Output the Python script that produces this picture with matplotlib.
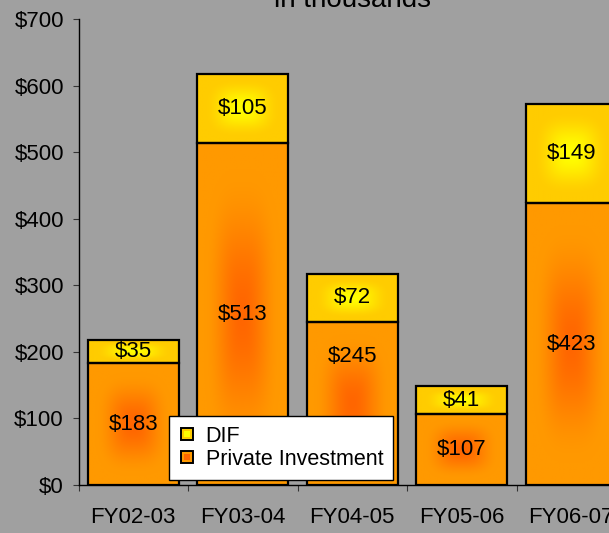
import numpy as np
import matplotlib
matplotlib.use("Agg")
import matplotlib.pyplot as plt
from matplotlib.lines import Line2D
from matplotlib.legend_handler import HandlerTuple

years = ["FY02-03", "FY03-04", "FY04-05", "FY05-06", "FY06-07"]
private_inv = [183, 513, 245, 107, 423]
dif = [35, 105, 72, 41, 149]
ytick_vals = [0, 100, 200, 300, 400, 500, 600, 700]
# label for FY04-05 private segment sits higher (clear of the legend)
pi_label_shift = [0, 0, 70, 0, 0]

plt.rcParams['font.family'] = ['Liberation Sans', 'DejaVu Sans']

bg = '#A0A0A0'
yel_center, yel_edge = (1.0, 1.0, 0.0), (1.0, 0.80, 0.0)
org_center, org_edge = (1.0, 0.40, 0.0), (1.0, 0.60, 0.0)


def grad_img(c_in, c_out, n=150):
    u = np.linspace(-1, 1, n)
    U, V = np.meshgrid(u, u)
    t = (np.abs(U) ** 3 + np.abs(V) ** 3) ** (1 / 3)
    s = np.clip(t / 0.85, 0, 1)
    s = s * s * (3 - 2 * s)
    c_in = np.array(c_in)
    c_out = np.array(c_out)
    return c_in[None, None, :] * (1 - s[..., None]) + c_out[None, None, :] * s[..., None]


fig = plt.figure(figsize=(6.09, 5.33), dpi=100)
fig.patch.set_facecolor(bg)
W, H = 609, 533
ax = fig.add_axes([78.5 / W, 48 / H, 547.5 / W, 466 / H])
ax.set_facecolor(bg)

x = np.arange(len(years))
b1 = ax.bar(x, private_inv, width=0.83, facecolor='none', edgecolor='black', linewidth=1.6, zorder=3)
b2 = ax.bar(x, dif, bottom=private_inv, width=0.83, facecolor='none', edgecolor='black', linewidth=1.6, zorder=3)

for bars, cols in [(b1, (org_center, org_edge)), (b2, (yel_center, yel_edge))]:
    img = grad_img(*cols)
    for r in bars:
        x0, y0 = r.get_x(), r.get_y()
        ax.imshow(img, extent=(x0, x0 + r.get_width(), y0, y0 + r.get_height()),
                  aspect='auto', interpolation='bilinear', zorder=2)

for i in range(len(years)):
    ax.text(x[i], private_inv[i] / 2 + pi_label_shift[i], f"${private_inv[i]}",
            ha='center', va='center', fontsize=16, zorder=4)
    ax.text(x[i], private_inv[i] + dif[i] / 2, f"${dif[i]}", ha='center', va='center',
            fontsize=16, zorder=4)

ax.set_xlim(-0.5, len(years) - 0.5)
ax.set_ylim(0, 700)
ax.set_yticks(ytick_vals)
ax.set_yticklabels([f"${v}" for v in ytick_vals], fontsize=16)
ax.set_xticks(np.arange(len(years) + 1) - 0.5)
ax.set_xticklabels([])
ax.set_xticks(x, minor=True)
ax.set_xticklabels(years, minor=True, fontsize=16)
ax.tick_params(axis='x', which='major', direction='out', length=4.5, color='#333333')
ax.tick_params(axis='x', which='minor', length=0, pad=16)
ax.tick_params(axis='y', direction='out', length=4.5, pad=6, color='#333333')
for s in ['top', 'right']:
    ax.spines[s].set_visible(False)
for s in ['left', 'bottom']:
    ax.spines[s].set_color('black')
    ax.spines[s].set_linewidth(1.0)

ax.text(0.5, 1 + 12 / 466, "in thousands", transform=ax.transAxes, ha='center',
        va='baseline', fontsize=20)

h_dif = (Line2D([], [], marker='s', ls='', markersize=9, markerfacecolor=yel_edge,
                markeredgecolor='black', markeredgewidth=1.4),
         Line2D([], [], marker='s', ls='', markersize=4.5, markerfacecolor=yel_center,
                markeredgewidth=0))
h_pi = (Line2D([], [], marker='s', ls='', markersize=9, markerfacecolor=org_edge,
               markeredgecolor='black', markeredgewidth=1.4),
        Line2D([], [], marker='s', ls='', markersize=4.5, markerfacecolor=org_center,
               markeredgewidth=0))
leg = fig.legend([h_dif, h_pi], ["DIF", "Private Investment"],
                 handler_map={tuple: HandlerTuple(ndivide=1, pad=0)},
                 loc='upper left', bbox_to_anchor=(169 / W, 1 - 416 / H),
                 fontsize=15.5, frameon=True, fancybox=False, framealpha=1,
                 edgecolor='black', facecolor='white', borderpad=0.45,
                 handlelength=0.8, handletextpad=0.45, labelspacing=0.1,
                 borderaxespad=0)
leg.get_frame().set_linewidth(1.0)
leg.set_zorder(10)

fig.savefig("out.png", dpi=100, facecolor=bg)
